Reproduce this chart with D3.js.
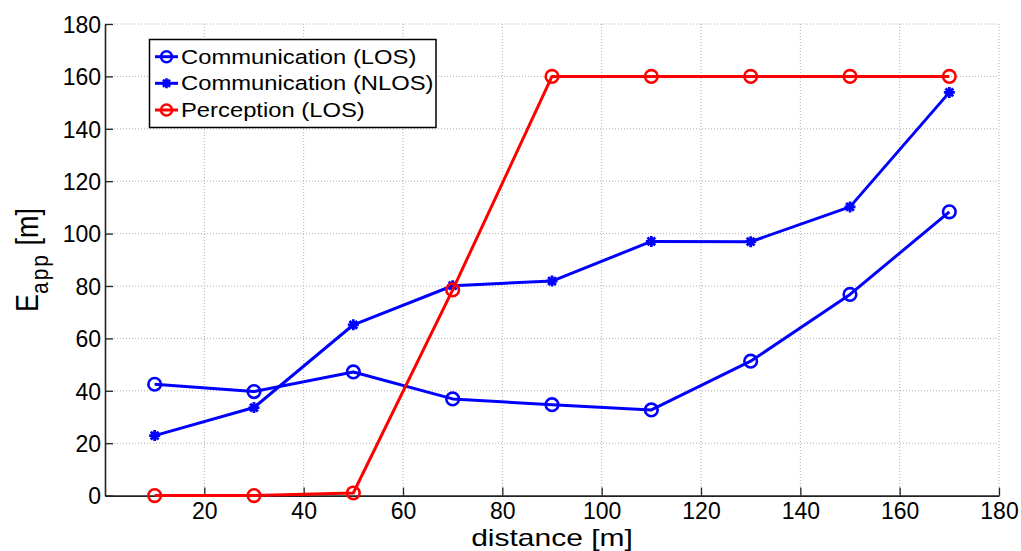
<!DOCTYPE html>
<html><head><meta charset="utf-8">
<script src="https://cdn.jsdelivr.net/npm/d3@7"></script>
<style>body{margin:0;background:#fff}svg{display:block}text{font-family:"Liberation Sans",Arial,sans-serif}</style>
</head><body><svg id="c" width="1021" height="551"></svg>
<script>
const distances = [10, 30, 50, 70, 90, 110, 130, 150, 170];
const commLOS = [42.5, 39.7, 47.2, 36.9, 34.7, 32.7, 51.3, 76.8, 108.3];
const commNLOS = [22.9, 33.6, 65.2, 80.1, 81.9, 97.0, 96.9, 110.2, 153.9];
const percLOS = [0, 0, 1.0, 78.5, 160, 160, 160, 160, 160];
const xTicks = [20, 40, 60, 80, 100, 120, 140, 160, 180];
const yTicks = [0, 20, 40, 60, 80, 100, 120, 140, 160, 180];
const seriesNames = ["Communication (LOS)", "Communication (NLOS)", "Perception (LOS)"];

const svg = d3.select("#c");
const L = 105, R = 999, T = 24, B = 495.6;
const x = d3.scaleLinear().domain([0, 180]).range([L, R]);
const y = d3.scaleLinear().domain([0, 180]).range([B, T]);

// grid
const grid = svg.append("g").attr("stroke", "#b0b0b0").attr("stroke-width", 1).attr("stroke-dasharray", "1,2");
grid.selectAll("line.v").data(xTicks).join("line")
  .attr("x1", d => x(d)).attr("x2", d => x(d)).attr("y1", T).attr("y2", B);
grid.selectAll("line.h").data(yTicks.filter(d => d > 0)).join("line")
  .attr("y1", d => y(d)).attr("y2", d => y(d)).attr("x1", L).attr("x2", R);

// axes
const xAxis = d3.axisBottom(x).tickValues(xTicks).tickSizeInner(-8).tickSizeOuter(0).tickPadding(7).tickFormat(d3.format("d"));
const yAxis = d3.axisLeft(y).tickValues(yTicks).tickSizeInner(-8).tickSizeOuter(0).tickPadding(4).tickFormat(d3.format("d"));
const gx = svg.append("g").attr("transform", `translate(0,${B})`).call(xAxis);
const gy = svg.append("g").attr("transform", `translate(${L},0)`).call(yAxis);
[gx, gy].forEach(g => {
  g.select(".domain").attr("stroke", "#222").attr("stroke-width", 1.6);
  g.selectAll(".tick line").attr("stroke", "#222").attr("stroke-width", 1.3);
  g.selectAll(".tick text").attr("font-size", 23).attr("fill", "#000").attr("font-family", "Liberation Sans, Arial, sans-serif");
});
gy.selectAll(".tick text").attr("dy", "0.36em");

// data
const line = d3.line().x((d, i) => x(distances[i])).y(d => y(d));
function starPath(r) {
  const a = r * Math.SQRT1_2;
  return `M${-r},0L${r},0M0,${-r}L0,${r}M${-a},${-a}L${a},${a}M${-a},${a}L${a},${-a}`;
}
const series = [
  {vals: commLOS, color: "#0000ff", marker: "o"},
  {vals: commNLOS, color: "#0000ff", marker: "*"},
  {vals: percLOS, color: "#ff0000", marker: "o"}
];
series.forEach(s => {
  const g = svg.append("g");
  g.append("path").datum(s.vals).attr("d", line).attr("fill", "none")
    .attr("stroke", s.color).attr("stroke-width", 3).attr("stroke-linejoin", "round");
  if (s.marker === "o") {
    g.selectAll("circle").data(s.vals).join("circle")
      .attr("cx", (d, i) => x(distances[i])).attr("cy", d => y(d)).attr("r", 6.3)
      .attr("fill", "none").attr("stroke", s.color).attr("stroke-width", 2.6);
  } else {
    g.selectAll("path.m").data(s.vals).join("path").attr("class", "m")
      .attr("transform", (d, i) => `translate(${x(distances[i])},${y(d)})`)
      .attr("d", starPath(5.5)).attr("stroke", s.color).attr("stroke-width", 2.8).attr("fill", "none");
  }
});

// legend
const lg = svg.append("g");
lg.append("rect").attr("x", 149.5).attr("y", 39.5).attr("width", 286.5).attr("height", 88)
  .attr("fill", "#fff").attr("stroke", "#000").attr("stroke-width", 1.5);
const rowsY = [56.7, 83.3, 110];
series.forEach((s, i) => {
  const yy = rowsY[i];
  lg.append("line").attr("x1", 155).attr("x2", 178).attr("y1", yy).attr("y2", yy)
    .attr("stroke", s.color).attr("stroke-width", 3);
  if (s.marker === "o") {
    lg.append("circle").attr("cx", 166.5).attr("cy", yy).attr("r", 5.5).attr("fill", "none")
      .attr("stroke", s.color).attr("stroke-width", 2.5);
  } else {
    lg.append("path").attr("transform", `translate(166.5,${yy})`).attr("d", starPath(5))
      .attr("stroke", s.color).attr("stroke-width", 2.6);
  }
  lg.append("text").attr("transform", `translate(181,${yy}) scale(1.22,1)`).attr("dy", "0.36em")
    .attr("font-size", 19.5).attr("fill", "#000").text(seriesNames[i]);
});

// axis labels
svg.append("text").attr("transform", `translate(${(L + R) / 2},546) scale(1.25,1)`).attr("text-anchor", "middle")
  .attr("font-size", 24).attr("fill", "#000").text("distance [m]");
const yl = svg.append("text").attr("transform", `translate(38,260) rotate(-90) scale(1,1.15)`)
  .attr("text-anchor", "middle").attr("font-size", 27).attr("fill", "#000");
yl.append("tspan").text("E");
yl.append("tspan").attr("font-size", 21).attr("letter-spacing", 2).attr("dy", 9).text("app");
yl.append("tspan").attr("dy", -9).text(" [m]");
</script></body></html>
